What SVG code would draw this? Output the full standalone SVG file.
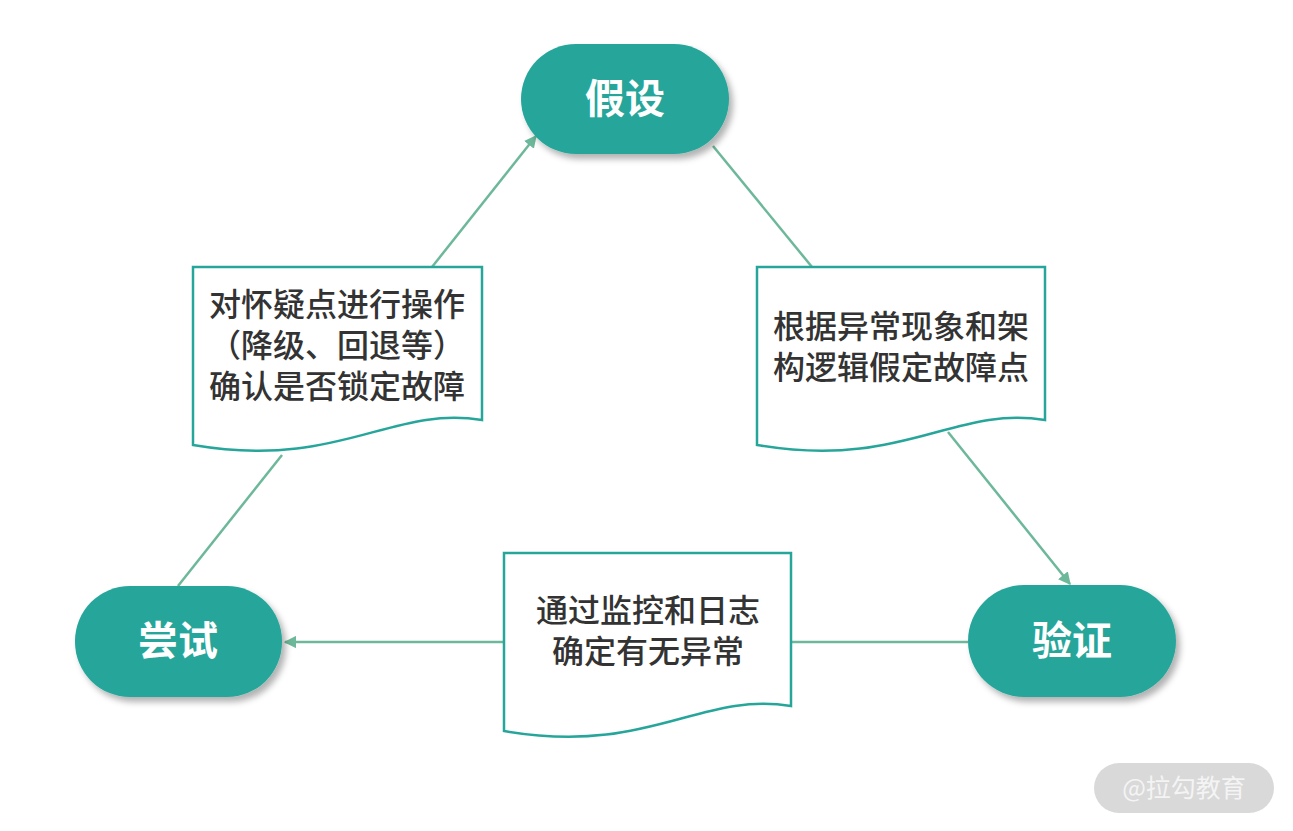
<svg xmlns="http://www.w3.org/2000/svg" width="1293" height="831" viewBox="0 0 1293 831">
<style>
.pill{fill:#26a69a}
.pt{fill:#fff;font-family:"Noto Sans CJK SC",sans-serif;font-weight:bold;font-size:40px;text-anchor:middle}
.doc{fill:#fff;stroke:#26a69a;stroke-width:2.5}
.dt{fill:#333;font-family:"Noto Sans CJK SC",sans-serif;font-weight:500;font-size:32px;text-anchor:middle}
.ln{stroke:#6db89a;stroke-width:2.5;fill:none}
</style>
<defs>
<filter id="sh" x="-20%" y="-20%" width="140%" height="150%"><feDropShadow dx="4" dy="5" stdDeviation="3" flood-color="#000" flood-opacity="0.3"/></filter>
<marker id="ar" viewBox="0 0 10 10" refX="9" refY="5" markerWidth="5" markerHeight="5" orient="auto"><path d="M0,0L10,5L0,10z" fill="#6db89a"/></marker>
</defs>
<rect width="1293" height="831" fill="#fff"/>
<g id="connectors">
<line class="ln" x1="432" y1="267" x2="536" y2="136" marker-end="url(#ar)"/>
<line class="ln" x1="282" y1="455" x2="178" y2="586"/>
<line class="ln" x1="713" y1="146" x2="812" y2="267"/>
<line class="ln" x1="948" y1="432" x2="1070" y2="584" marker-end="url(#ar)"/>
<line class="ln" x1="968" y1="642" x2="791" y2="642"/>
<line class="ln" x1="504" y1="642" x2="285" y2="642" marker-end="url(#ar)"/>
</g>
<g id="n1"><rect class="pill" x="521" y="44" width="208" height="110" rx="55" filter="url(#sh)"/><text class="pt" x="625" y="113">假设</text></g>
<g id="n2"><rect class="pill" x="75" y="586" width="207" height="111" rx="55" filter="url(#sh)"/><text class="pt" x="178" y="655">尝试</text></g>
<g id="n3"><rect class="pill" x="968" y="585" width="208" height="112" rx="56" filter="url(#sh)"/><text class="pt" x="1072" y="655">验证</text></g>
<g id="d1"><path class="doc" d="M193,267H482V420C390,405 340,470 193,445Z"/>
<text class="dt" x="337" y="316">对怀疑点进行操作</text><text class="dt" x="337" y="357">（降级、回退等）</text><text class="dt" x="337" y="398">确认是否锁定故障</text></g>
<g id="d2"><path class="doc" d="M757,267H1045V420C953,405 903,470 757,445Z"/>
<text class="dt" x="901" y="338">根据异常现象和架</text><text class="dt" x="901" y="379">构逻辑假定故障点</text></g>
<g id="d3"><path class="doc" d="M504,553H791V706C699,691 649,756 504,731Z"/>
<text class="dt" x="648" y="622">通过监控和日志</text><text class="dt" x="648" y="663">确定有无异常</text></g>
<g id="wm"><rect x="1094" y="763" width="180" height="50" rx="25" fill="#d9d9d9"/><text x="1184" y="797" text-anchor="middle" font-family="Noto Sans CJK SC,sans-serif" font-size="25" fill="#f4f4f4">@拉勾教育</text></g>
</svg>
